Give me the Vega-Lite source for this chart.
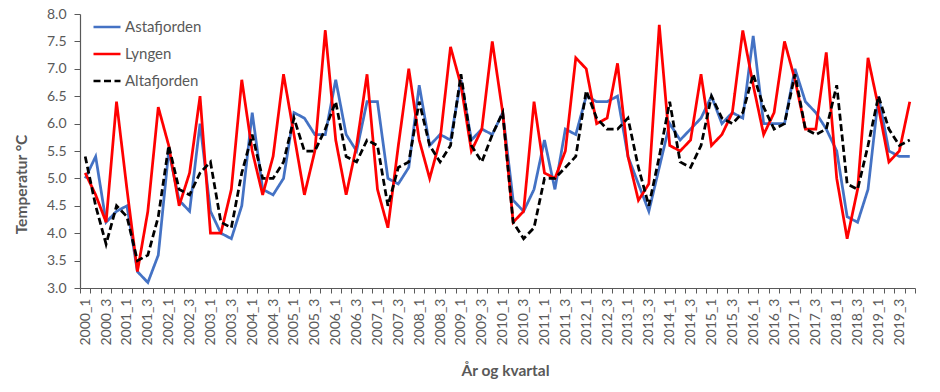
{
  "$schema": "https://vega.github.io/schema/vega-lite/v6.json",
  "width": 835,
  "height": 274,
  "autosize": {"type": "none"},
  "padding": {"left": 80, "top": 14, "right": 25, "bottom": 104},
  "config": {"font": "Lato", "view": {"stroke": null}},
  "data": {"values": [
    {"k":"2000_1","A":5.0,"L":5.1,"T":5.4},{"k":"2000_2","A":5.4,"L":4.7,"T":4.5},{"k":"2000_3","A":4.2,"L":4.2,"T":3.8},{"k":"2000_4","A":4.4,"L":6.4,"T":4.5},
    {"k":"2001_1","A":4.5,"L":4.8,"T":4.3},{"k":"2001_2","A":3.3,"L":3.3,"T":3.5},{"k":"2001_3","A":3.1,"L":4.4,"T":3.6},{"k":"2001_4","A":3.6,"L":6.3,"T":4.3},
    {"k":"2002_1","A":5.5,"L":5.6,"T":5.6},{"k":"2002_2","A":4.6,"L":4.5,"T":4.8},{"k":"2002_3","A":4.4,"L":5.1,"T":4.7},{"k":"2002_4","A":6.0,"L":6.5,"T":5.1},
    {"k":"2003_1","A":4.4,"L":4.0,"T":5.3},{"k":"2003_2","A":4.0,"L":4.0,"T":4.2},{"k":"2003_3","A":3.9,"L":4.8,"T":4.1},{"k":"2003_4","A":4.5,"L":6.8,"T":5.1},
    {"k":"2004_1","A":6.2,"L":5.5,"T":5.8},{"k":"2004_2","A":4.8,"L":4.7,"T":5.0},{"k":"2004_3","A":4.7,"L":5.4,"T":5.0},{"k":"2004_4","A":5.0,"L":6.9,"T":5.3},
    {"k":"2005_1","A":6.2,"L":5.8,"T":6.1},{"k":"2005_2","A":6.1,"L":4.7,"T":5.5},{"k":"2005_3","A":5.8,"L":5.5,"T":5.5},{"k":"2005_4","A":5.8,"L":7.7,"T":5.9},
    {"k":"2006_1","A":6.8,"L":5.7,"T":6.4},{"k":"2006_2","A":5.8,"L":4.7,"T":5.4},{"k":"2006_3","A":5.5,"L":5.6,"T":5.3},{"k":"2006_4","A":6.4,"L":6.9,"T":5.7},
    {"k":"2007_1","A":6.4,"L":4.8,"T":5.6},{"k":"2007_2","A":5.0,"L":4.1,"T":4.5},{"k":"2007_3","A":4.9,"L":5.6,"T":5.2},{"k":"2007_4","A":5.2,"L":7.0,"T":5.3},
    {"k":"2008_1","A":6.7,"L":5.7,"T":6.4},{"k":"2008_2","A":5.6,"L":5.0,"T":5.6},{"k":"2008_3","A":5.8,"L":5.7,"T":5.3},{"k":"2008_4","A":5.7,"L":7.4,"T":5.6},
    {"k":"2009_1","A":6.8,"L":6.7,"T":6.9},{"k":"2009_2","A":5.7,"L":5.5,"T":5.6},{"k":"2009_3","A":5.9,"L":5.9,"T":5.3},{"k":"2009_4","A":5.8,"L":7.5,"T":5.8},
    {"k":"2010_1","A":6.2,"L":6.2,"T":6.2},{"k":"2010_2","A":4.6,"L":4.2,"T":4.2},{"k":"2010_3","A":4.4,"L":4.4,"T":3.9},{"k":"2010_4","A":4.8,"L":6.4,"T":4.1},
    {"k":"2011_1","A":5.7,"L":5.1,"T":5.0},{"k":"2011_2","A":4.8,"L":5.0,"T":5.0},{"k":"2011_3","A":5.9,"L":5.5,"T":5.2},{"k":"2011_4","A":5.8,"L":7.2,"T":5.4},
    {"k":"2012_1","A":6.5,"L":7.0,"T":6.6},{"k":"2012_2","A":6.4,"L":6.0,"T":6.1},{"k":"2012_3","A":6.4,"L":6.1,"T":5.9},{"k":"2012_4","A":6.5,"L":7.1,"T":5.9},
    {"k":"2013_1","A":5.4,"L":5.4,"T":6.1},{"k":"2013_2","A":4.9,"L":4.6,"T":5.2},{"k":"2013_3","A":4.4,"L":4.9,"T":4.5},{"k":"2013_4","A":5.2,"L":7.8,"T":5.4},
    {"k":"2014_1","A":6.0,"L":5.6,"T":6.4},{"k":"2014_2","A":5.7,"L":5.5,"T":5.3},{"k":"2014_3","A":5.9,"L":5.7,"T":5.2},{"k":"2014_4","A":6.1,"L":6.9,"T":5.6},
    {"k":"2015_1","A":6.5,"L":5.6,"T":6.5},{"k":"2015_2","A":6.0,"L":5.8,"T":6.1},{"k":"2015_3","A":6.2,"L":6.2,"T":6.0},{"k":"2015_4","A":6.1,"L":7.7,"T":6.2},
    {"k":"2016_1","A":7.6,"L":6.7,"T":6.9},{"k":"2016_2","A":6.0,"L":5.8,"T":6.3},{"k":"2016_3","A":6.0,"L":6.2,"T":5.9},{"k":"2016_4","A":6.0,"L":7.5,"T":6.0},
    {"k":"2017_1","A":7.0,"L":6.8,"T":6.9},{"k":"2017_2","A":6.4,"L":5.9,"T":5.9},{"k":"2017_3","A":6.2,"L":5.9,"T":5.8},{"k":"2017_4","A":5.9,"L":7.3,"T":5.9},
    {"k":"2018_1","A":5.5,"L":5.0,"T":6.7},{"k":"2018_2","A":4.3,"L":3.9,"T":4.9},{"k":"2018_3","A":4.2,"L":4.8,"T":4.8},{"k":"2018_4","A":4.8,"L":7.2,"T":5.6},
    {"k":"2019_1","A":6.5,"L":6.3,"T":6.5},{"k":"2019_2","A":5.5,"L":5.3,"T":5.9},{"k":"2019_3","A":5.4,"L":5.5,"T":5.6},{"k":"2019_4","A":5.4,"L":6.4,"T":5.7}
  ]},
  "transform": [
    {"fold": ["A", "L", "T"], "as": ["code", "temp"]},
    {"lookup": "code", "from": {"data": {"values": [{"code":"A","serie":"Astafjorden","o":0},{"code":"L","serie":"Lyngen","o":1},{"code":"T","serie":"Altafjorden","o":2}]}, "key": "code", "fields": ["serie","o"]}}
  ],
  "mark": {"type": "line", "strokeWidth": 2.75, "strokeJoin": "miter", "strokeCap": "butt"},
  "encoding": {
    "x": {
      "field": "k", "type": "ordinal", "sort": null, "bandPosition": 0.5,
      "scale": {"type": "band", "paddingInner": 0, "paddingOuter": 0},
      "axis": {
        "title": "År og kvartal", "titleFontSize": 15.5, "titleFontWeight": "bold", "titleColor": "#595959",
        "titleX": 425, "titleY": 82, "titleBaseline": "middle", "titleAlign": "center",
        "labelAngle": -90, "labelFontSize": 14, "labelColor": "#595959", "labelPadding": 5, "labelOverlap": false,
        "labelExpr": "test(/_[13]$/, datum.value) ? datum.value : ''",
        "tickBand": "extent", "tickSize": 5, "tickColor": "#595959", "domainColor": "#595959", "domainWidth": 1.2
      }
    },
    "y": {
      "field": "temp", "type": "quantitative",
      "scale": {"domain": [3, 8], "nice": false, "zero": false},
      "axis": {
        "title": "Temperatur °C", "titleFontSize": 15.5, "titleFontWeight": "bold", "titleColor": "#595959",
        "titleX": -59, "titleY": 170, "titleBaseline": "middle", "titleAlign": "center", "titleAngle": -90,
        "values": [3,3.5,4,4.5,5,5.5,6,6.5,7,7.5,8], "format": ".1f", "grid": false,
        "labelFontSize": 14, "labelColor": "#595959", "labelPadding": 8, "tickSize": 6, "tickColor": "#595959", "domainColor": "#595959", "domainWidth": 1.2
      }
    },
    "color": {
      "field": "serie", "type": "nominal",
      "scale": {"domain": ["Astafjorden", "Lyngen", "Altafjorden"], "range": ["#4472C4", "#FF0000", "#000000"]},
      "legend": {
        "title": null, "orient": "none", "legendX": 12, "legendY": -2,
        "symbolType": "stroke", "symbolSize": 729, "symbolStrokeWidth": 2.5,
        "labelFontSize": 15, "labelColor": "#595959", "labelOffset": 3, "rowPadding": 4
      }
    },
    "strokeDash": {
      "field": "serie", "type": "nominal",
      "scale": {"domain": ["Astafjorden", "Lyngen", "Altafjorden"], "range": [[1, 0], [1, 0], [7, 3.5]]},
      "legend": null
    },
    "order": {"field": "o"}
  }
}
